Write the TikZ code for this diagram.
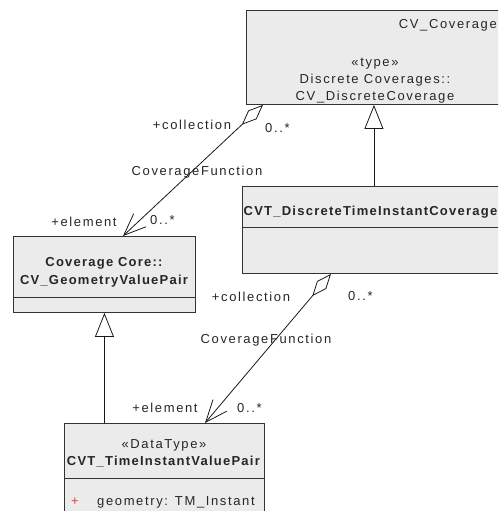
\documentclass[tikz,border=0pt]{standalone}
\usepackage{fontspec}
\setmainfont{Liberation Sans}[LetterSpace=12.5, BoldFeatures={LetterSpace=9.5}]
\usepackage{tikz}
\usetikzlibrary{positioning,arrows.meta,calc}
\definecolor{classfill}{HTML}{EBEBEB}
\definecolor{plusred}{HTML}{C0504D}

\begin{document}
\begin{tikzpicture}[x=1pt, y=-1pt,
    every node/.style={inner sep=0pt, text=black!85, font=\fontsize{13}{17}\selectfont},
    classbox/.style={draw=black!80, line width=0.9pt, fill=classfill, anchor=north west},
    aggr/.style={draw=black!90, line width=0.8pt,
      {Diamond[length=29pt, width=12pt, fill=white]}-{Straight Barb[length=22pt, width=18pt]}},
    gener/.style={draw=black!90, line width=0.8pt,
      -{Triangle[length=24pt, width=19pt, fill=white]}}]
  \useasboundingbox (0,0) rectangle (498,511);
  \clip (0,0) rectangle (498,511);

  % class boxes
  \node[classbox, minimum width=258pt, minimum height=94pt] (cov) at (246,10) {};
  \node[classbox, minimum width=263pt, minimum height=87pt] (disc) at (242,186) {};
  \node[classbox, minimum width=182pt, minimum height=76pt] (geo) at (13,236) {};
  \node[classbox, minimum width=200pt, minimum height=100pt] (tiv) at (64,423) {};

  % compartments
  \draw[black!80, line width=0.9pt] ($(disc.north west)+(0,41)$) -- ($(disc.north east)+(0,41)$);
  \draw[black!80, line width=0.9pt] ($(geo.south west)+(0,-15)$) -- ($(geo.south east)+(0,-15)$);
  \draw[black!80, line width=0.9pt] ($(tiv.north west)+(0,55)$) -- ($(tiv.north east)+(0,55)$);

  % class texts
  \node[anchor=east] (covpkg) at (497,25) {CV\_Coverage};
  \node[align=center] (covname) at (375,81) {«type»\\Discrete Coverages::\\CV\_DiscreteCoverage};
  \node[anchor=west, font=\fontsize{13}{17}\selectfont\bfseries] (discname) at (243.5,212)
    {CVT\_DiscreteTimeInstantCoverage};
  \node[align=center, font=\fontsize{13}{18}\selectfont\bfseries] (geoname) at (104,272)
    {Coverage Core::\\CV\_GeometryValuePair};
  \node[align=center] (tivname) at (164,453) {«DataType»\\\textbf{CVT\_TimeInstantValuePair}};
  \node[text=plusred] (tivplus) at (75,502) {+};
  \node[anchor=west] (tivattr) at (97,502) {geometry: TM\_Instant};

  % connectors
  \draw[gener] (disc.north) -- (disc.north |- cov.south);
  \draw[gener] (geo.south |- tiv.north) -- (geo.south);
  \draw[aggr] ($(cov.south west)+(17,0)$) -- ($(geo.north west)+(110,0)$);
  \draw[aggr] ($(disc.south west)+(89,0)$) -- ($(tiv.north west)+(141,0)$);

  % role labels
  \node (colA) at (192,125) {+collection};
  \node[anchor=west] (colAm) at (265,128) {0..*};
  \node (funA) at (197,172) {CoverageFunction};
  \node (eleA) at (84,222) {+element};
  \node[anchor=west] (eleAm) at (150,220) {0..*};
  \node (colB) at (251,297) {+collection};
  \node[anchor=west] (colBm) at (348,296) {0..*};
  \node (funB) at (266,340) {CoverageFunction};
  \node (eleB) at (165,408) {+element};
  \node[anchor=west] (eleBm) at (237,408) {0..*};
\end{tikzpicture}
\end{document}
